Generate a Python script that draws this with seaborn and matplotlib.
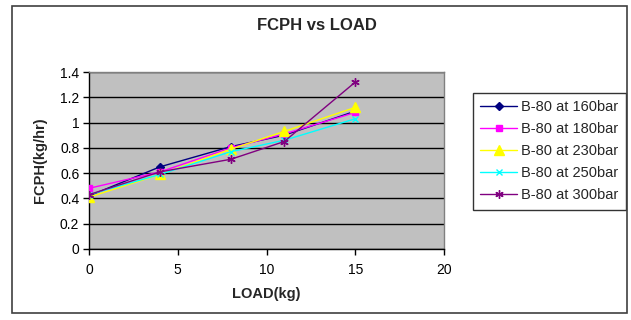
import matplotlib
matplotlib.use("Agg")
import matplotlib.pyplot as plt
from matplotlib.patches import Rectangle
import seaborn as sns
import pandas as pd

# Load values (kg) and fuel consumption per hour (kg/hr) for each injection pressure
load = [0, 4, 8, 11, 15]
fcph_160 = [0.42, 0.65, 0.81, 0.90, 1.09]
fcph_180 = [0.48, 0.61, 0.80, 0.91, 1.08]
fcph_230 = [0.41, 0.59, 0.79, 0.93, 1.12]
fcph_250 = [0.43, 0.59, 0.77, 0.86, 1.03]
fcph_300 = [0.43, 0.61, 0.71, 0.85, 1.32]

series_labels = ["B-80 at 160bar", "B-80 at 180bar", "B-80 at 230bar",
                 "B-80 at 250bar", "B-80 at 300bar"]
series_values = [fcph_160, fcph_180, fcph_230, fcph_250, fcph_300]
x_ticks = [0, 5, 10, 15, 20]
y_ticks = [0, 0.2, 0.4, 0.6, 0.8, 1, 1.2, 1.4]
y_tick_labels = ["0", "0.2", "0.4", "0.6", "0.8", "1", "1.2", "1.4"]

colors = ["#000080", "#FF00FF", "#FFFF00", "#00FFFF", "#800080"]
markers = ["D", "s", "^", "x", (6, 2, 0)]
msizes = [4, 5, 6.5, 5, 6]

sns.set_theme(style="white")
plt.rcParams["font.family"] = ["Liberation Sans", "DejaVu Sans"]

W, H = 631, 320
fig = plt.figure(figsize=(W / 100, H / 100), dpi=100)
fig.patch.set_facecolor("white")

# Outer chart frame
fig.patches.append(Rectangle((12 / W, 1 - 313 / H), (627 - 12) / W, (313 - 6) / H,
                             transform=fig.transFigure, fill=False,
                             edgecolor="#404040", linewidth=1.2, zorder=0))

ax = fig.add_axes([89 / W, 1 - 249 / H, (444 - 89) / W, (249 - 72) / H])
ax.set_facecolor("#C0C0C0")

df = pd.DataFrame({
    "LOAD": load * len(series_labels),
    "FCPH": [v for vals in series_values for v in vals],
    "series": [lab for lab in series_labels for _ in load],
})

for lab, col, mk, ms in zip(series_labels, colors, markers, msizes):
    sub = df[df["series"] == lab]
    sns.lineplot(data=sub, x="LOAD", y="FCPH", ax=ax, color=col, marker=mk,
                 markersize=ms, markeredgecolor=col, markeredgewidth=1.0,
                 linewidth=1.0, label=lab, sort=False, zorder=3)

ax.set_xlim(0, 20)
ax.set_ylim(0, 1.4)
ax.set_xticks(x_ticks)
ax.set_xticklabels([str(t) for t in x_ticks])
ax.set_yticks(y_ticks)
ax.set_yticklabels(y_tick_labels)
ax.yaxis.grid(True, color="black", linewidth=1.0)
ax.xaxis.grid(False)
ax.set_axisbelow(True)

for side in ["top", "right"]:
    ax.spines[side].set_color("#808080")
    ax.spines[side].set_linewidth(1.0)
for side in ["left", "bottom"]:
    ax.spines[side].set_color("black")
    ax.spines[side].set_linewidth(1.0)

ax.tick_params(axis="both", direction="out", length=4, width=1, color="black",
               labelsize=10, labelcolor="black", pad=3, left=True, bottom=True)
ax.tick_params(axis="x", pad=6)

ax.set_xlabel("LOAD(kg)", fontsize=10.5, fontweight="bold", labelpad=7)
ax.set_ylabel("FCPH(kg/hr)", fontsize=10.5, fontweight="bold", labelpad=9)

fig.text(317 / W, 1 - 25 / H, "FCPH vs LOAD", ha="center", va="center",
         fontsize=12, fontweight="bold")

leg = ax.legend(loc="upper left", bbox_to_anchor=(473 / W, 1 - 93 / H),
                bbox_transform=fig.transFigure, borderaxespad=0,
                frameon=True, fancybox=False, fontsize=10.5, handlelength=2.5,
                labelspacing=0.55, borderpad=0.5, handletextpad=0.3)
leg.get_frame().set_edgecolor("black")
leg.get_frame().set_linewidth(1.0)

fig.savefig("out.png", dpi=100)
